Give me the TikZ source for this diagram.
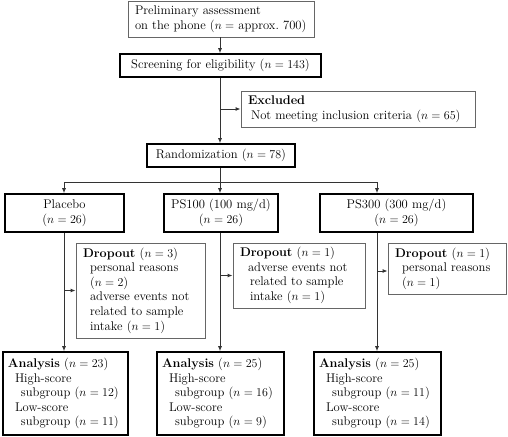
\documentclass[tikz,border=0pt]{standalone}
\usetikzlibrary{arrows.meta}
\begin{document}
\begin{tikzpicture}[x=1pt,y=-1pt,
  every node/.style={font=\fontsize{12.6}{14.6}\selectfont, inner xsep=7pt, inner ysep=0pt},
  thickbox/.style={draw=black, line width=1.6pt, align=center},
  graybox/.style={draw=black!60, line width=0.9pt, align=left},
  conn/.style={draw=black!80, line width=0.9pt},
  arr/.style={conn, -{Latex[length=5pt,width=4pt]}}]
\useasboundingbox (0,0) rectangle (508,436);
\coordinate (c1) at (64,0);
\coordinate (c2) at (220,0);
\coordinate (c3) at (377,0);
% top
\node[graybox, minimum width=186pt, minimum height=36pt, text width=172pt] (top) at (221,19)
  {\mbox{Preliminary assessment}\\\mbox{on the phone ($n=$ approx.\ 700)}};
\node[thickbox, minimum width=201pt, minimum height=23pt] (screen) at (220.5,65.5)
  {Screening for eligibility ($n=143$)};
\node[graybox, minimum width=234pt, minimum height=36pt, text width=220pt] (excl) at (358,109)
  {\textbf{Excluded}\\\hspace*{3pt}\mbox{Not meeting inclusion criteria ($n=65$)}};
\node[thickbox, minimum width=148pt, minimum height=23pt] (rand) at (221,155.5)
  {Randomization ($n=78$)};
% groups
\node[thickbox, minimum width=119pt, minimum height=38pt] (plac) at (64.5,213)
  {Placebo\\($n=26$)};
\node[thickbox, minimum width=114pt, minimum height=38pt] (ps100) at (221,213)
  {PS100 (100 mg/d)\\($n=26$)};
\node[thickbox, minimum width=153pt, minimum height=38pt] (ps300) at (396.5,213)
  {PS300 (300 mg/d)\\($n=26$)};
% dropouts
\node[graybox, minimum width=129pt, minimum height=95pt, text width=115pt] (d1) at (140.5,290.5)
  {\mbox{\textbf{Dropout} ($n=3$)}\\\hspace*{7pt}\mbox{personal reasons}\\\hspace*{7pt}\mbox{($n=2$)}\\\hspace*{7pt}\mbox{adverse events not}\\\hspace*{7pt}\mbox{related to sample}\\\hspace*{7pt}\mbox{intake ($n=1$)}};
\node[graybox, minimum width=132pt, minimum height=65pt, text width=118pt] (d2) at (299,275.5)
  {\mbox{\textbf{Dropout} ($n=1$)}\\\hspace*{8pt}\mbox{adverse events not}\\\hspace*{10pt}\mbox{related to sample}\\\hspace*{10pt}\mbox{intake ($n=1$)}};
\node[graybox, minimum width=118pt, minimum height=51pt, text width=104pt] (d3) at (447,268.5)
  {\mbox{\textbf{Dropout} ($n=1$)}\\\hspace*{7pt}\mbox{personal reasons}\\\hspace*{7pt}\mbox{($n=1$)}};
% analysis
\node[thickbox, align=left, inner xsep=5pt, minimum width=125pt, minimum height=83pt, text width=115pt] (a1) at (65.5,393.5)
  {\mbox{\textbf{Analysis} ($n=23$)}\\\hspace*{7pt}\mbox{High-score}\\\hspace*{13pt}\mbox{subgroup ($n=12$)}\\\hspace*{7pt}\mbox{Low-score}\\\hspace*{13pt}\mbox{subgroup ($n=11$)}};
\node[thickbox, align=left, inner xsep=5pt, minimum width=127pt, minimum height=83pt, text width=117pt] (a2) at (220.5,393.5)
  {\mbox{\textbf{Analysis} ($n=25$)}\\\hspace*{7pt}\mbox{High-score}\\\hspace*{13pt}\mbox{subgroup ($n=16$)}\\\hspace*{7pt}\mbox{Low-score}\\\hspace*{13pt}\mbox{subgroup ($n=9$)}};
\node[thickbox, align=left, inner xsep=5pt, minimum width=127pt, minimum height=83pt, text width=117pt] (a3) at (377.5,393.5)
  {\mbox{\textbf{Analysis} ($n=25$)}\\\hspace*{7pt}\mbox{High-score}\\\hspace*{13pt}\mbox{subgroup ($n=11$)}\\\hspace*{7pt}\mbox{Low-score}\\\hspace*{13pt}\mbox{subgroup ($n=14$)}};
% connectors
\draw[arr] (c2 |- top.south) -- (c2 |- screen.north);
\draw[arr] (c2 |- screen.south) -- (c2 |- rand.north);
\draw[arr] (c2 |- excl.west) -- (excl.west);
\coordinate (split) at (220,182);
\draw[conn] (c2 |- rand.south) -- (split);
\draw[conn] (c1 |- split) -- (c3 |- split);
\draw[arr] (c1 |- split) -- (c1 |- plac.north);
\draw[arr] (split) -- (c2 |- ps100.north);
\draw[arr] (c3 |- split) -- (c3 |- ps300.north);
\draw[arr] (c1 |- plac.south) -- (c1 |- a1.north);
\draw[arr] (c2 |- ps100.south) -- (c2 |- a2.north);
\draw[arr] (c3 |- ps300.south) -- (c3 |- a3.north);
\draw[arr] (c1 |- d1.west) -- (d1.west);
\draw[arr] (c2 |- d2.west) -- (d2.west);
\draw[arr] (c3 |- 0,271) -- (d3.west |- 0,271);
\end{tikzpicture}
\end{document}
